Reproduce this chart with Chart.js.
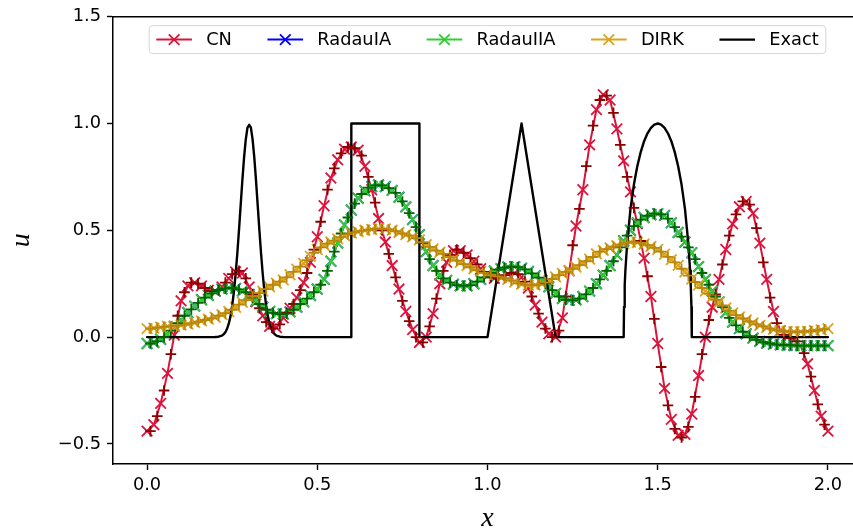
<!DOCTYPE html>
<html>
<head>
<meta charset="utf-8">
<script src="https://cdn.jsdelivr.net/npm/chart.js@4.4.1/dist/chart.umd.min.js"></script>
<style>
  html, body { margin: 0; padding: 0; background: #ffffff; overflow: hidden; }
  #wrap { width: 880px; height: 531px; }
</style>
</head>
<body>
<div id="wrap"><canvas id="c" width="880" height="531"></canvas></div>
<script>
// ---------------- data ----------------
// sample positions of the "x" markers and of the "+" markers
const gridX = [0,0.02,0.04,0.06,0.08,0.1,0.12,0.14,0.16,0.18,0.2,0.22,0.24,0.26,0.28,0.3,0.32,0.34,0.36,0.38,0.4,0.42,0.44,0.46,0.48,0.5,0.52,0.54,0.56,0.58,0.6,0.62,0.64,0.66,0.68,0.7,0.72,0.74,0.76,0.78,0.8,0.82,0.84,0.86,0.88,0.9,0.92,0.94,0.96,0.98,1,1.02,1.04,1.06,1.08,1.1,1.12,1.14,1.16,1.18,1.2,1.22,1.24,1.26,1.28,1.3,1.32,1.34,1.36,1.38,1.4,1.42,1.44,1.46,1.48,1.5,1.52,1.54,1.56,1.58,1.6,1.62,1.64,1.66,1.68,1.7,1.72,1.74,1.76,1.78,1.8,1.82,1.84,1.86,1.88,1.9,1.92,1.94,1.96,1.98,2];
const gridP = [0.01,0.03,0.05,0.07,0.09,0.11,0.13,0.15,0.17,0.19,0.21,0.23,0.25,0.27,0.29,0.31,0.33,0.35,0.37,0.39,0.41,0.43,0.45,0.47,0.49,0.51,0.53,0.55,0.57,0.59,0.61,0.63,0.65,0.67,0.69,0.71,0.73,0.75,0.77,0.79,0.81,0.83,0.85,0.87,0.89,0.91,0.93,0.95,0.97,0.99,1.01,1.03,1.05,1.07,1.09,1.11,1.13,1.15,1.17,1.19,1.21,1.23,1.25,1.27,1.29,1.31,1.33,1.35,1.37,1.39,1.41,1.43,1.45,1.47,1.49,1.51,1.53,1.55,1.57,1.59,1.61,1.63,1.65,1.67,1.69,1.71,1.73,1.75,1.77,1.79,1.81,1.83,1.85,1.87,1.89,1.91,1.93,1.95,1.97,1.99];

const cnX = [-0.44,-0.41,-0.31,-0.17,0.01,0.17,0.24,0.255,0.24,0.22,0.215,0.235,0.275,0.305,0.30,0.235,0.165,0.10,0.05,0.045,0.09,0.135,0.185,0.255,0.35,0.47,0.615,0.745,0.83,0.88,0.89,0.875,0.80,0.69,0.555,0.445,0.335,0.225,0.12,0.035,-0.025,0.0,0.11,0.25,0.35,0.405,0.405,0.385,0.355,0.32,0.29,0.275,0.28,0.295,0.30,0.28,0.23,0.15,0.07,0.015,0.0,0.09,0.31,0.52,0.69,0.90,1.065,1.135,1.11,0.975,0.825,0.68,0.53,0.37,0.19,-0.03,-0.24,-0.385,-0.46,-0.455,-0.36,-0.18,0.0,0.14,0.27,0.41,0.53,0.61,0.635,0.58,0.44,0.27,0.12,0.03,0.0,-0.01,-0.04,-0.125,-0.25,-0.37,-0.44];
const cnP = [-0.44,-0.37,-0.25,-0.08,0.10,0.21,0.255,0.25,0.23,0.215,0.22,0.255,0.295,0.31,0.275,0.20,0.135,0.07,0.04,0.06,0.115,0.155,0.22,0.30,0.41,0.54,0.69,0.79,0.86,0.89,0.885,0.85,0.75,0.63,0.50,0.39,0.28,0.17,0.075,0.0,-0.025,0.05,0.18,0.31,0.385,0.41,0.395,0.37,0.34,0.305,0.28,0.275,0.29,0.30,0.295,0.26,0.19,0.11,0.04,0.0,0.03,0.19,0.43,0.60,0.80,0.99,1.11,1.13,1.05,0.90,0.75,0.605,0.45,0.285,0.085,-0.14,-0.32,-0.43,-0.47,-0.42,-0.28,-0.08,0.08,0.20,0.34,0.475,0.575,0.635,0.62,0.51,0.35,0.185,0.065,0.01,-0.005,-0.02,-0.075,-0.185,-0.315,-0.41];

const radauIIAX = [-0.03,-0.025,-0.01,0.015,0.05,0.08,0.115,0.145,0.175,0.195,0.215,0.225,0.23,0.228,0.215,0.20,0.17,0.14,0.12,0.11,0.108,0.118,0.14,0.165,0.195,0.225,0.27,0.355,0.44,0.525,0.595,0.65,0.685,0.705,0.712,0.705,0.687,0.655,0.61,0.55,0.48,0.40,0.335,0.29,0.265,0.248,0.24,0.24,0.25,0.27,0.29,0.31,0.32,0.328,0.33,0.323,0.308,0.288,0.265,0.235,0.205,0.18,0.172,0.175,0.19,0.215,0.25,0.29,0.335,0.385,0.45,0.50,0.535,0.56,0.573,0.578,0.57,0.535,0.49,0.445,0.395,0.33,0.27,0.215,0.165,0.115,0.07,0.04,0.015,-0.005,-0.02,-0.028,-0.033,-0.036,-0.038,-0.039,-0.04,-0.04,-0.04,-0.04,-0.04];
const radauIIAP = [-0.03,-0.02,0.0,0.03,0.065,0.10,0.13,0.16,0.185,0.205,0.22,0.228,0.23,0.223,0.21,0.185,0.155,0.128,0.113,0.108,0.11,0.128,0.155,0.18,0.21,0.245,0.31,0.40,0.485,0.56,0.625,0.67,0.70,0.71,0.71,0.697,0.675,0.635,0.58,0.515,0.44,0.365,0.31,0.275,0.255,0.243,0.24,0.243,0.26,0.28,0.30,0.316,0.325,0.33,0.328,0.317,0.298,0.278,0.25,0.22,0.19,0.175,0.172,0.18,0.2,0.23,0.27,0.31,0.355,0.42,0.475,0.52,0.55,0.568,0.578,0.575,0.555,0.515,0.47,0.42,0.365,0.30,0.245,0.19,0.14,0.09,0.055,0.025,0.005,-0.013,-0.024,-0.03,-0.035,-0.037,-0.038,-0.04,-0.04,-0.04,-0.04,-0.04];
// RadauIA lies exactly under RadauIIA in the picture (never visible)
const radauIAX = radauIIAX;

const dirkX = [0.04,0.042,0.046,0.05,0.052,0.056,0.061,0.068,0.076,0.084,0.093,0.105,0.12,0.14,0.163,0.183,0.198,0.215,0.235,0.252,0.268,0.292,0.318,0.345,0.378,0.41,0.43,0.445,0.46,0.475,0.487,0.494,0.5,0.504,0.507,0.506,0.5,0.49,0.48,0.47,0.455,0.433,0.413,0.397,0.382,0.366,0.35,0.335,0.32,0.307,0.296,0.288,0.28,0.27,0.258,0.248,0.243,0.244,0.25,0.264,0.282,0.298,0.312,0.328,0.346,0.365,0.39,0.406,0.418,0.428,0.438,0.445,0.443,0.436,0.424,0.41,0.388,0.363,0.336,0.305,0.272,0.244,0.216,0.188,0.162,0.136,0.113,0.094,0.08,0.066,0.055,0.045,0.036,0.03,0.026,0.025,0.025,0.027,0.03,0.034,0.04];
const dirkP = [0.04,0.044,0.048,0.051,0.054,0.058,0.064,0.072,0.08,0.088,0.10,0.112,0.128,0.152,0.173,0.19,0.206,0.225,0.245,0.26,0.28,0.305,0.33,0.36,0.395,0.42,0.438,0.452,0.468,0.482,0.49,0.497,0.502,0.506,0.507,0.504,0.496,0.485,0.475,0.463,0.445,0.422,0.405,0.39,0.374,0.358,0.342,0.327,0.313,0.301,0.292,0.284,0.276,0.265,0.252,0.245,0.243,0.246,0.256,0.272,0.29,0.305,0.32,0.337,0.355,0.375,0.4,0.412,0.423,0.433,0.442,0.445,0.44,0.43,0.418,0.4,0.376,0.35,0.32,0.288,0.258,0.23,0.202,0.175,0.148,0.124,0.103,0.087,0.073,0.06,0.05,0.04,0.032,0.028,0.025,0.025,0.026,0.028,0.032,0.037];

const exactX = [0,0.2,0.21,0.22,0.225,0.23,0.235,0.24,0.245,0.25,0.255,0.26,0.265,0.27,0.275,0.28,0.285,0.29,0.295,0.3,0.305,0.31,0.315,0.32,0.325,0.33,0.335,0.34,0.345,0.35,0.355,0.36,0.365,0.37,0.375,0.38,0.39,0.4,0.6,0.6,0.8,0.8,1.0,1.1,1.2,1.4,1.401,1.403,1.405,1.41,1.42,1.43,1.44,1.45,1.46,1.47,1.48,1.49,1.5,1.51,1.52,1.53,1.54,1.55,1.56,1.57,1.58,1.59,1.595,1.597,1.599,1.6,2.0];
const exactY = [0,0.0005,0.002,0.007,0.013,0.023,0.039,0.063,0.097,0.146,0.21,0.292,0.389,0.5,0.618,0.735,0.841,0.926,0.981,0.994,0.981,0.926,0.841,0.735,0.618,0.5,0.389,0.292,0.21,0.146,0.097,0.063,0.039,0.023,0.013,0.007,0.002,0.0005,0,1,1,0,0,1,0,0,0.141,0.243,0.312,0.436,0.6,0.714,0.8,0.866,0.917,0.954,0.98,0.995,1,0.995,0.98,0.954,0.917,0.866,0.8,0.714,0.6,0.436,0.312,0.243,0.141,0,0];

const seriesLabels = ['CN', 'RadauIA', 'RadauIIA', 'DIRK', 'Exact'];
const xTicks = [0, 0.5, 1.0, 1.5, 2.0];
const yTicks = [-0.5, 0.0, 0.5, 1.0, 1.5];

// ---------------- helpers ----------------
const pts = (xs, ys) => xs.map((x, i) => ({ x: x, y: ys[i] }));
const FS = 17.8;
const FONT = 'DejaVu Sans';

function lineSet(label, xs, ys, color, order) {
  return {
    label: label, data: pts(xs, ys), borderColor: color, backgroundColor: color,
    borderWidth: 2, tension: 0, pointStyle: 'crossRot', pointRadius: 7.5,
    pointBorderWidth: 1.8, pointBorderColor: color, pointBackgroundColor: color,
    pointHoverRadius: 7.5, order: order, legendShow: true, legendMarker: true
  };
}
function plusSet(xs, ys, color, order) {
  return {
    label: '_nolegend_', data: pts(xs, ys), showLine: false, borderColor: color,
    backgroundColor: color, pointStyle: 'cross', pointRadius: 5.3, pointBorderWidth: 1.8,
    pointBorderColor: color, pointBackgroundColor: color, pointHoverRadius: 5.3,
    order: order, legendShow: false
  };
}

const datasets = [
  lineSet(seriesLabels[0], gridX, cnX, '#DC143C', 8),
  lineSet(seriesLabels[1], gridX, radauIAX, '#0000FF', 7),
  lineSet(seriesLabels[2], gridX, radauIIAX, '#32CD32', 6),
  lineSet(seriesLabels[3], gridX, dirkX, '#DAA520', 5),
  { label: seriesLabels[4], data: pts(exactX, exactY), borderColor: '#000000',
    backgroundColor: '#000000', borderWidth: 2.4, tension: 0, pointRadius: 0,
    borderJoinStyle: 'round', borderCapStyle: 'round',
    pointHoverRadius: 0, order: 4, legendShow: true, legendMarker: false },
  plusSet(gridP, cnP, '#8B0000', 3),
  plusSet(gridP, radauIIAP, '#006400', 2),
  plusSet(gridP, dirkP, '#B8860B', 1)
];

// matplotlib-style legend drawn inside the axes
const mplLegend = {
  id: 'mplLegend',
  afterDraw(chart) {
    const ctx = chart.ctx, ca = chart.chartArea;
    const items = chart.data.datasets.filter(d => d.legendShow);
    ctx.save();
    ctx.font = FS + 'px "' + FONT + '"';
    const bp = 0.4 * FS, hl = 2 * FS, htp = 0.8 * FS, cs = 2 * FS;
    const widths = items.map(it => ctx.measureText(it.label).width);
    let total = 2 * bp + cs * (items.length - 1);
    widths.forEach(w => { total += hl + htp + w; });
    const h = 28;
    const top = ca.top + 0.5 * FS;
    const left = (ca.left + ca.right) / 2 - total / 2;
    ctx.beginPath();
    ctx.roundRect(left, top, total, h, 3.5);
    ctx.fillStyle = 'rgba(255,255,255,0.8)';
    ctx.fill();
    ctx.lineWidth = 1;
    ctx.strokeStyle = 'rgba(204,204,204,0.8)';
    ctx.stroke();
    const cy = top + h / 2;
    let x = left + bp;
    items.forEach((it, i) => {
      ctx.strokeStyle = it.borderColor;
      ctx.lineWidth = it.borderWidth;
      ctx.beginPath(); ctx.moveTo(x, cy); ctx.lineTo(x + hl, cy); ctx.stroke();
      if (it.legendMarker) {
        const mx = x + hl / 2, r = 5.3;
        ctx.lineWidth = 1.8;
        ctx.beginPath();
        ctx.moveTo(mx - r, cy - r); ctx.lineTo(mx + r, cy + r);
        ctx.moveTo(mx - r, cy + r); ctx.lineTo(mx + r, cy - r);
        ctx.stroke();
      }
      ctx.fillStyle = '#000000';
      ctx.textBaseline = 'middle';
      ctx.textAlign = 'left';
      ctx.fillText(it.label, x + hl + htp, cy + 1);
      x += hl + htp + widths[i] + cs;
    });
    ctx.restore();
  }
};

const fmt = v => (v < 0 ? '\u2212' : '') + Math.abs(v).toFixed(1);

new Chart(document.getElementById('c'), {
  type: 'line',
  data: { datasets: datasets },
  options: {
    responsive: false,
    animation: false,
    devicePixelRatio: 1,
    events: [],
    layout: { padding: { top: 16, right: 18, bottom: 0, left: 0 } },
    plugins: { legend: { display: false }, tooltip: { enabled: false } },
    scales: {
      x: {
        type: 'linear', position: 'bottom', min: -0.1, max: 2.1,
        afterBuildTicks: s => { s.ticks = xTicks.map(v => ({ value: v })); },
        afterFit: s => { s.height = 67; },
        grid: { display: true, drawOnChartArea: false, drawTicks: true, tickLength: 6, tickWidth: 1.4, color: '#000000' },
        border: { display: true, color: '#000000', width: 1.5 },
        ticks: { callback: v => fmt(v), font: { family: FONT, size: FS }, color: '#000000', padding: 5, maxRotation: 0, autoSkip: false },
        title: { display: true, text: 'x', color: '#000000', padding: { top: 0, bottom: -4 },
                 font: { family: 'Liberation Serif', style: 'italic', size: 28 } }
      },
      xTop: {
        type: 'linear', position: 'top', min: -0.1, max: 2.1,
        afterFit: s => { s.height = 0; },
        grid: { display: true, drawOnChartArea: false, drawTicks: false, tickLength: 0 },
        border: { display: true, color: '#000000', width: 1.5 },
        ticks: { display: false }
      },
      y: {
        type: 'linear', position: 'left', min: -0.594, max: 1.5,
        afterBuildTicks: s => { s.ticks = yTicks.map(v => ({ value: v })); },
        afterFit: s => { s.width = 113; },
        grid: { display: true, drawOnChartArea: false, drawTicks: true, tickLength: 6, tickWidth: 1.4, color: '#000000' },
        border: { display: true, color: '#000000', width: 1.5 },
        ticks: { callback: v => fmt(v), font: { family: FONT, size: FS }, color: '#000000', padding: 6, autoSkip: false },
        title: { display: true, text: 'u', color: '#000000', padding: { top: 5, bottom: 0 },
                 font: { family: 'Liberation Serif', style: 'italic', size: 28 } }
      }
    }
  },
  plugins: [mplLegend]
});
</script>
</body>
</html>
